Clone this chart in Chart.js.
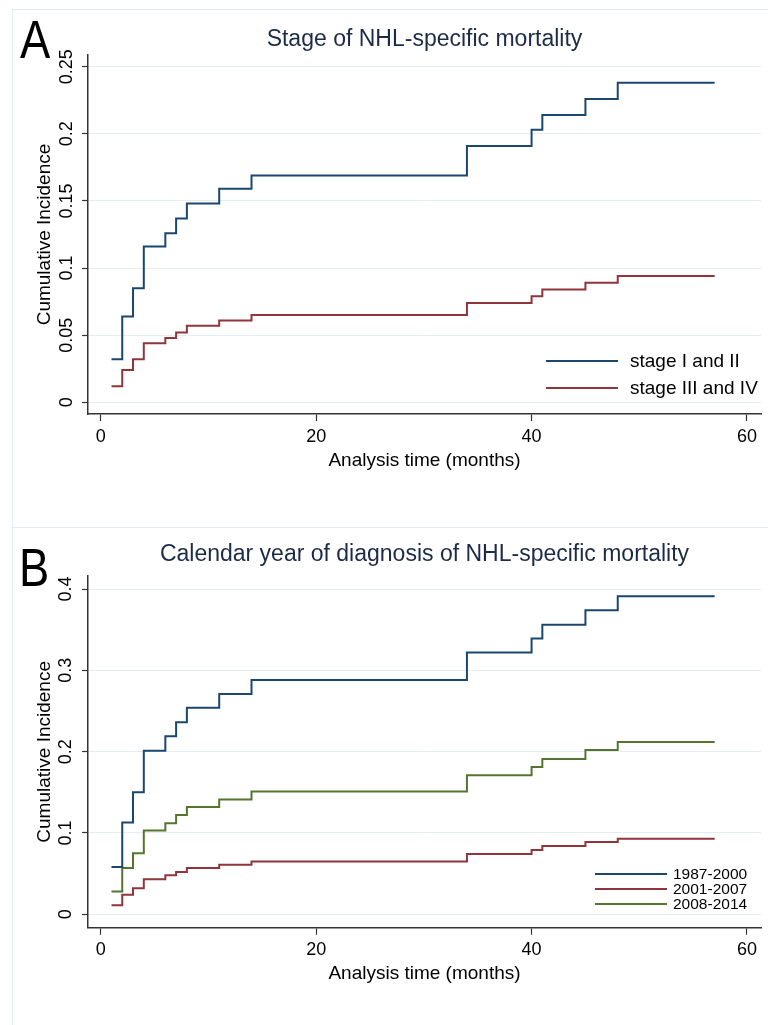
<!DOCTYPE html>
<html>
<head>
<meta charset="utf-8">
<script src="https://cdn.jsdelivr.net/npm/chart.js@4.4.1/dist/chart.umd.min.js"></script>
<style>
  html, body { margin: 0; padding: 0; background: #fff; }
  #page { position: relative; width: 768px; height: 1025px; overflow: hidden; font-family: 'Liberation Sans', Arial, sans-serif; }
  .panel { position: absolute; left: 12px; width: 800px; border: 1px solid #e3ecf0; box-sizing: border-box; }
  .letter { position: absolute; font-size: 54px; line-height: 54px; color: #000; transform: scaleX(0.84); transform-origin: left top; }
  canvas { position: absolute; left: 0; }
</style>
</head>
<body>
<div id="page">
  <div class="panel" style="top:9px;height:519px"></div>
  <div class="panel" style="top:527px;height:520px"></div>
  <canvas id="chartA" width="768" height="527" style="top:0"></canvas>
  <canvas id="chartB" width="768" height="498" style="top:527px"></canvas>
  <div class="letter" style="left:20px;top:12px">A</div>
  <div class="letter" style="left:19px;top:540px">B</div>
</div>
<script>
// Curvas de incidencia acumulada (pasos).
const months = [1, 2, 3, 4, 6, 7, 8, 11, 14, 34, 40, 41, 45, 48, 57];

// Panel A: estadio
const stage12 = [0.032, 0.064, 0.085, 0.116, 0.126, 0.137, 0.148, 0.159, 0.169, 0.191, 0.203, 0.214, 0.226, 0.238, 0.238];
const stage34 = [0.012, 0.024, 0.032, 0.044, 0.048, 0.052, 0.057, 0.061, 0.065, 0.074, 0.079, 0.084, 0.089, 0.094, 0.094];

// Panel B: periodo de diagnostico
const yr8700 = [0.058, 0.113, 0.150, 0.201, 0.219, 0.236, 0.254, 0.271, 0.288, 0.322, 0.339, 0.356, 0.374, 0.391, 0.391];
const yr0107 = [0.011, 0.024, 0.032, 0.043, 0.048, 0.052, 0.057, 0.061, 0.065, 0.074, 0.079, 0.084, 0.089, 0.093, 0.093];
const yr0814 = [0.028, 0.057, 0.075, 0.103, 0.112, 0.122, 0.132, 0.141, 0.151, 0.171, 0.181, 0.191, 0.202, 0.212, 0.212];

const xTicks = [0, 20, 40, 60];
const yTicksA = [0, 0.05, 0.1, 0.15, 0.2, 0.25];
const yTicksB = [0, 0.1, 0.2, 0.3, 0.4];

const NAVY = '#1a476f', MAROON = '#90353b', GREEN = '#55752f';
const FONT = "'Liberation Sans', Arial, sans-serif";

function pts(ys) {
  return months.map((m, i) => ({ x: m, y: ys[i] }));
}

function ds(label, ys, color) {
  return { label, data: pts(ys), borderColor: color, backgroundColor: color, borderWidth: 2, stepped: 'before', pointRadius: 0, fill: false };
}

// leyenda dibujada dentro del area del grafico
const innerLegend = {
  id: 'innerLegend',
  afterDatasetsDraw(chart, args, o) {
    const ctx = chart.ctx;
    ctx.save();
    ctx.font = `${o.size}px ${FONT}`;
    ctx.textBaseline = 'middle';
    ctx.textAlign = 'left';
    chart.data.datasets.forEach((d, i) => {
      const y = o.ys[i];
      ctx.strokeStyle = d.borderColor;
      ctx.lineWidth = 2;
      ctx.beginPath();
      ctx.moveTo(o.x0, y);
      ctx.lineTo(o.x1, y);
      ctx.stroke();
      ctx.fillStyle = '#000';
      ctx.fillText(d.label, o.tx, y + 1);
    });
    ctx.restore();
  }
};

function makeChart(id, datasets, cfg) {
  return new Chart(document.getElementById(id), {
    type: 'line',
    data: { datasets },
    plugins: [innerLegend],
    options: {
      responsive: false,
      animation: false,
      layout: { padding: { left: 0, right: 7, top: 0, bottom: cfg.padBottom } },
      plugins: {
        legend: { display: false },
        tooltip: { enabled: false },
        title: {
          display: true,
          text: cfg.title,
          fullSize: false,
          color: '#1c2b48',
          font: { family: FONT, size: 23, weight: 'normal' },
          padding: cfg.titlePad,
        },
        innerLegend: cfg.legend,
      },
      scales: {
        x: {
          type: 'linear',
          min: -1.18,
          max: 61.3,
          afterFit: s => { s.height = 60; },
          afterBuildTicks: s => { s.ticks = xTicks.map(v => ({ value: v })); },
          border: { display: true, color: '#333', width: 1.5 },
          grid: { drawOnChartArea: false, drawTicks: true, tickLength: 7, tickColor: '#333', tickWidth: 1.2 },
          ticks: { color: '#000', font: { family: FONT, size: 18 }, padding: 5, maxRotation: 0 },
          title: { display: true, text: 'Analysis time (months)', color: '#000', font: { family: FONT, size: 19 }, padding: { top: 0, bottom: cfg.xTitlePad } },
        },
        y: {
          min: cfg.yMin,
          max: cfg.yMax,
          afterFit: s => { s.width = 88; },
          afterBuildTicks: s => { s.ticks = cfg.yTicks.map(v => ({ value: v })); },
          border: { display: true, color: '#333', width: 1.5 },
          grid: { color: '#e4edf0', lineWidth: 1, tickLength: 6, tickColor: '#333', tickWidth: 1.2 },
          ticks: {
            color: '#000', font: { family: FONT, size: 18 },
            minRotation: 90, maxRotation: 90, crossAlign: 'center', padding: cfg.yTickPad,
            callback: v => String(Math.round(v * 100) / 100),
          },
          title: { display: true, text: 'Cumulative Incidence', color: '#000', font: { family: FONT, size: 19 }, padding: { top: 33.6, bottom: 0 } },
        },
      },
    },
  });
}

makeChart('chartA', [
  ds('stage I and II', stage12, NAVY),
  ds('stage III and IV', stage34, MAROON),
], {
  title: 'Stage of NHL-specific mortality',
  titlePad: { top: 26.2, bottom: 1.2 },
  padBottom: 53,
  xTitlePad: 1.6,
  yMin: -0.0087, yMax: 0.2587,
  yTicks: yTicksA,
  yTickPad: -2.2,
  legend: { x0: 546, x1: 618, tx: 630, ys: [361, 388], size: 19 },
});

makeChart('chartB', [
  ds('1987-2000', yr8700, NAVY),
  ds('2001-2007', yr0107, MAROON),
  ds('2008-2014', yr0814, GREEN),
], {
  title: 'Calendar year of diagnosis of NHL-specific mortality',
  titlePad: { top: 14.2, bottom: 7.2 },
  padBottom: 37.3,
  xTitlePad: 2.8,
  yMin: -0.0165, yMax: 0.416,
  yTicks: yTicksB,
  yTickPad: 3.5,
  legend: { x0: 595, x1: 667, tx: 673, ys: [347, 362, 377], size: 15.5 },
});
</script>
</body>
</html>
